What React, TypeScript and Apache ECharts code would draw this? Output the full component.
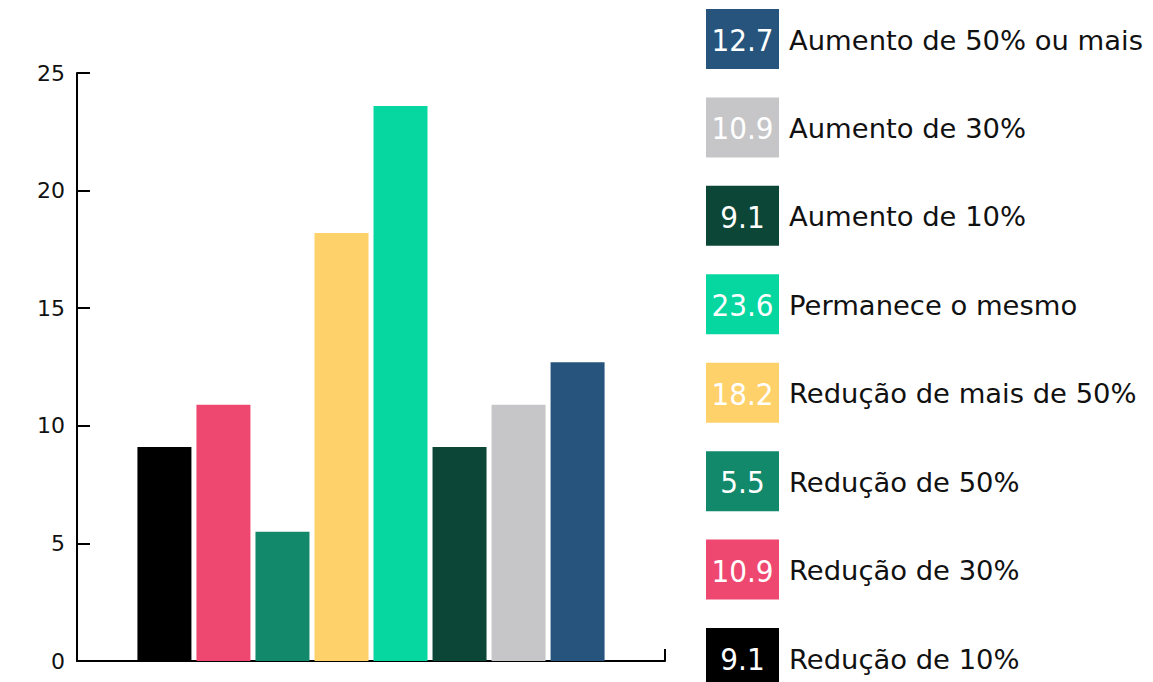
import React, { useEffect, useRef } from "react";
import * as echarts from "echarts";

const seriesNames = [
  "Redução de 10%",
  "Redução de 30%",
  "Redução de 50%",
  "Redução de mais de 50%",
  "Permanece o mesmo",
  "Aumento de 10%",
  "Aumento de 30%",
  "Aumento de 50% ou mais",
];
const seriesValues = [9.1, 10.9, 5.5, 18.2, 23.6, 9.1, 10.9, 12.7];
const seriesColors = [
  "#000000",
  "#EF4870",
  "#13896B",
  "#FFD16A",
  "#06D6A0",
  "#0B4637",
  "#C6C6C8",
  "#26547C",
];
const categories = [""];
const yTicks = { min: 0, max: 25, interval: 5 };

export default function App() {
  const ref = useRef<HTMLDivElement>(null);
  useEffect(() => {
    if (!ref.current) return;
    const chart = echarts.init(ref.current, null, { renderer: "svg" });

    const series = seriesNames.map((name, i) => ({
      name,
      type: "bar",
      data: [seriesValues[i]],
      barWidth: 54,
      barGap: "9.3%",
      itemStyle: { color: seriesColors[i] },
    }));

    // legend, top to bottom in reverse order of the bars
    const legendEls: any[] = [];
    const order = seriesNames.map((_, i) => seriesNames.length - 1 - i);
    order.forEach((idx, row) => {
      const top = 9 + row * 88.43;
      legendEls.push({
        type: "rect",
        shape: { x: 706, y: top, width: 73, height: 60 },
        style: { fill: seriesColors[idx] },
      });
      legendEls.push({
        type: "text",
        x: 742.5,
        y: top + 31,
        style: {
          text: String(seriesValues[idx]),
          fill: "#ffffff",
          font: "31px 'DejaVu Sans Condensed', sans-serif",
          align: "center",
          verticalAlign: "middle",
        },
      });
      legendEls.push({
        type: "text",
        x: 789,
        y: top + 31,
        style: {
          text: seriesNames[idx],
          fill: "#111111",
          font: "27.4px 'DejaVu Sans', sans-serif",
          align: "left",
          verticalAlign: "middle",
        },
      });
    });

    chart.setOption({
      animation: false,
      grid: { left: 77, right: 488, top: 73, bottom: 21, containLabel: false },
      xAxis: {
        type: "category",
        data: categories,
        boundaryGap: true,
        axisLine: { show: true, lineStyle: { color: "#000", width: 2 } },
        axisTick: { show: true, inside: true, length: 12, lineStyle: { color: "#000", width: 2 } },
        axisLabel: { show: false },
      },
      yAxis: {
        type: "value",
        min: yTicks.min,
        max: yTicks.max,
        interval: yTicks.interval,
        splitLine: { show: false },
        axisLine: { show: true, lineStyle: { color: "#000", width: 2 } },
        axisTick: { show: true, inside: true, length: 13, lineStyle: { color: "#000", width: 2 } },
        axisLabel: {
          color: "#111",
          fontSize: 22,
          fontFamily: "'DejaVu Sans', sans-serif",
          margin: 12,
        },
      },
      series,
      graphic: legendEls,
    });
    return () => chart.dispose();
  }, []);
  return (
    <div
      ref={ref}
      style={{ position: "fixed", left: 0, top: 0, width: 1153, height: 682, background: "#fff" }}
    />
  );
}
